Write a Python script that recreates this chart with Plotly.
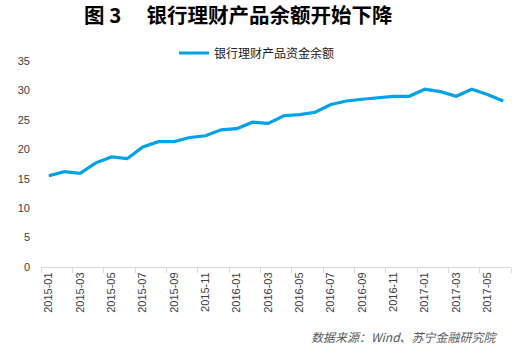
import plotly.graph_objects as go

months = ["2015-01","2015-02","2015-03","2015-04","2015-05","2015-06","2015-07","2015-08","2015-09","2015-10",
          "2015-11","2015-12","2016-01","2016-02","2016-03","2016-04","2016-05","2016-06","2016-07","2016-08",
          "2016-09","2016-10","2016-11","2016-12","2017-01","2017-02","2017-03","2017-04","2017-05","2017-06"]
balance = [15.5, 16.2, 15.9, 17.7, 18.7, 18.4, 20.4, 21.3, 21.3, 22.0,
           22.3, 23.3, 23.5, 24.6, 24.4, 25.7, 25.9, 26.3, 27.6, 28.2,
           28.5, 28.8, 29.0, 29.0, 30.2, 29.8, 29.0, 30.2, 29.3, 28.2]
series_name = "银行理财产品资金余额"
title_text = "图 3　 银行理财产品余额开始下降"
source_text = "数据来源：Wind、苏宁金融研究院"

fig = go.Figure()
fig.add_trace(go.Scatter(x=months, y=balance, mode="lines", name=series_name,
                         line=dict(color="#00A2E8", width=3.2)))

fig.update_layout(
    width=528, height=347,
    margin=dict(l=41, r=17, t=61, b=80),
    paper_bgcolor="white", plot_bgcolor="white",
    font=dict(family="Liberation Sans, Noto Sans CJK SC", size=11, color="#404040"),
    showlegend=True,
    legend=dict(orientation="h", x=(184-41-10)/470, xanchor="left", y=1 + 8/206, yanchor="middle",
                font=dict(family="Noto Sans CJK SC", size=12, color="#202020"),
                itemwidth=30, bgcolor="rgba(0,0,0,0)"),
    xaxis=dict(type="category", range=[-0.5, 29.5], tickmode="linear", dtick=2,
               tickson="boundaries", ticks="outside", ticklen=5, tickcolor="#d9d9d9",
               showline=True, linecolor="#d9d9d9", linewidth=1, showgrid=False,
               tickangle=-90, tickfont=dict(size=11, color="#404040")),
    yaxis=dict(range=[0, 35], dtick=5, showgrid=False, zeroline=False, showline=False,
               ticks="", ticklabelstandoff=10, tickfont=dict(size=11, color="#404040")),
    annotations=[
        dict(text=title_text, xref="paper", yref="paper", x=(82-41)/470, xanchor="left",
             y=(347-80-14)/206.0, yanchor="middle", showarrow=False,
             font=dict(family="Noto Sans CJK SC", size=20.5, color="#000000", weight="bold")),
        dict(text="<i>" + source_text + "</i>", xref="paper", yref="paper",
             x=(500-41)/470, xanchor="right", y=-(336-267)/206.0, yanchor="middle",
             showarrow=False,
             font=dict(family="Noto Sans CJK SC", size=12, color="#595959")),
    ],
)

fig.write_html("out.html")
